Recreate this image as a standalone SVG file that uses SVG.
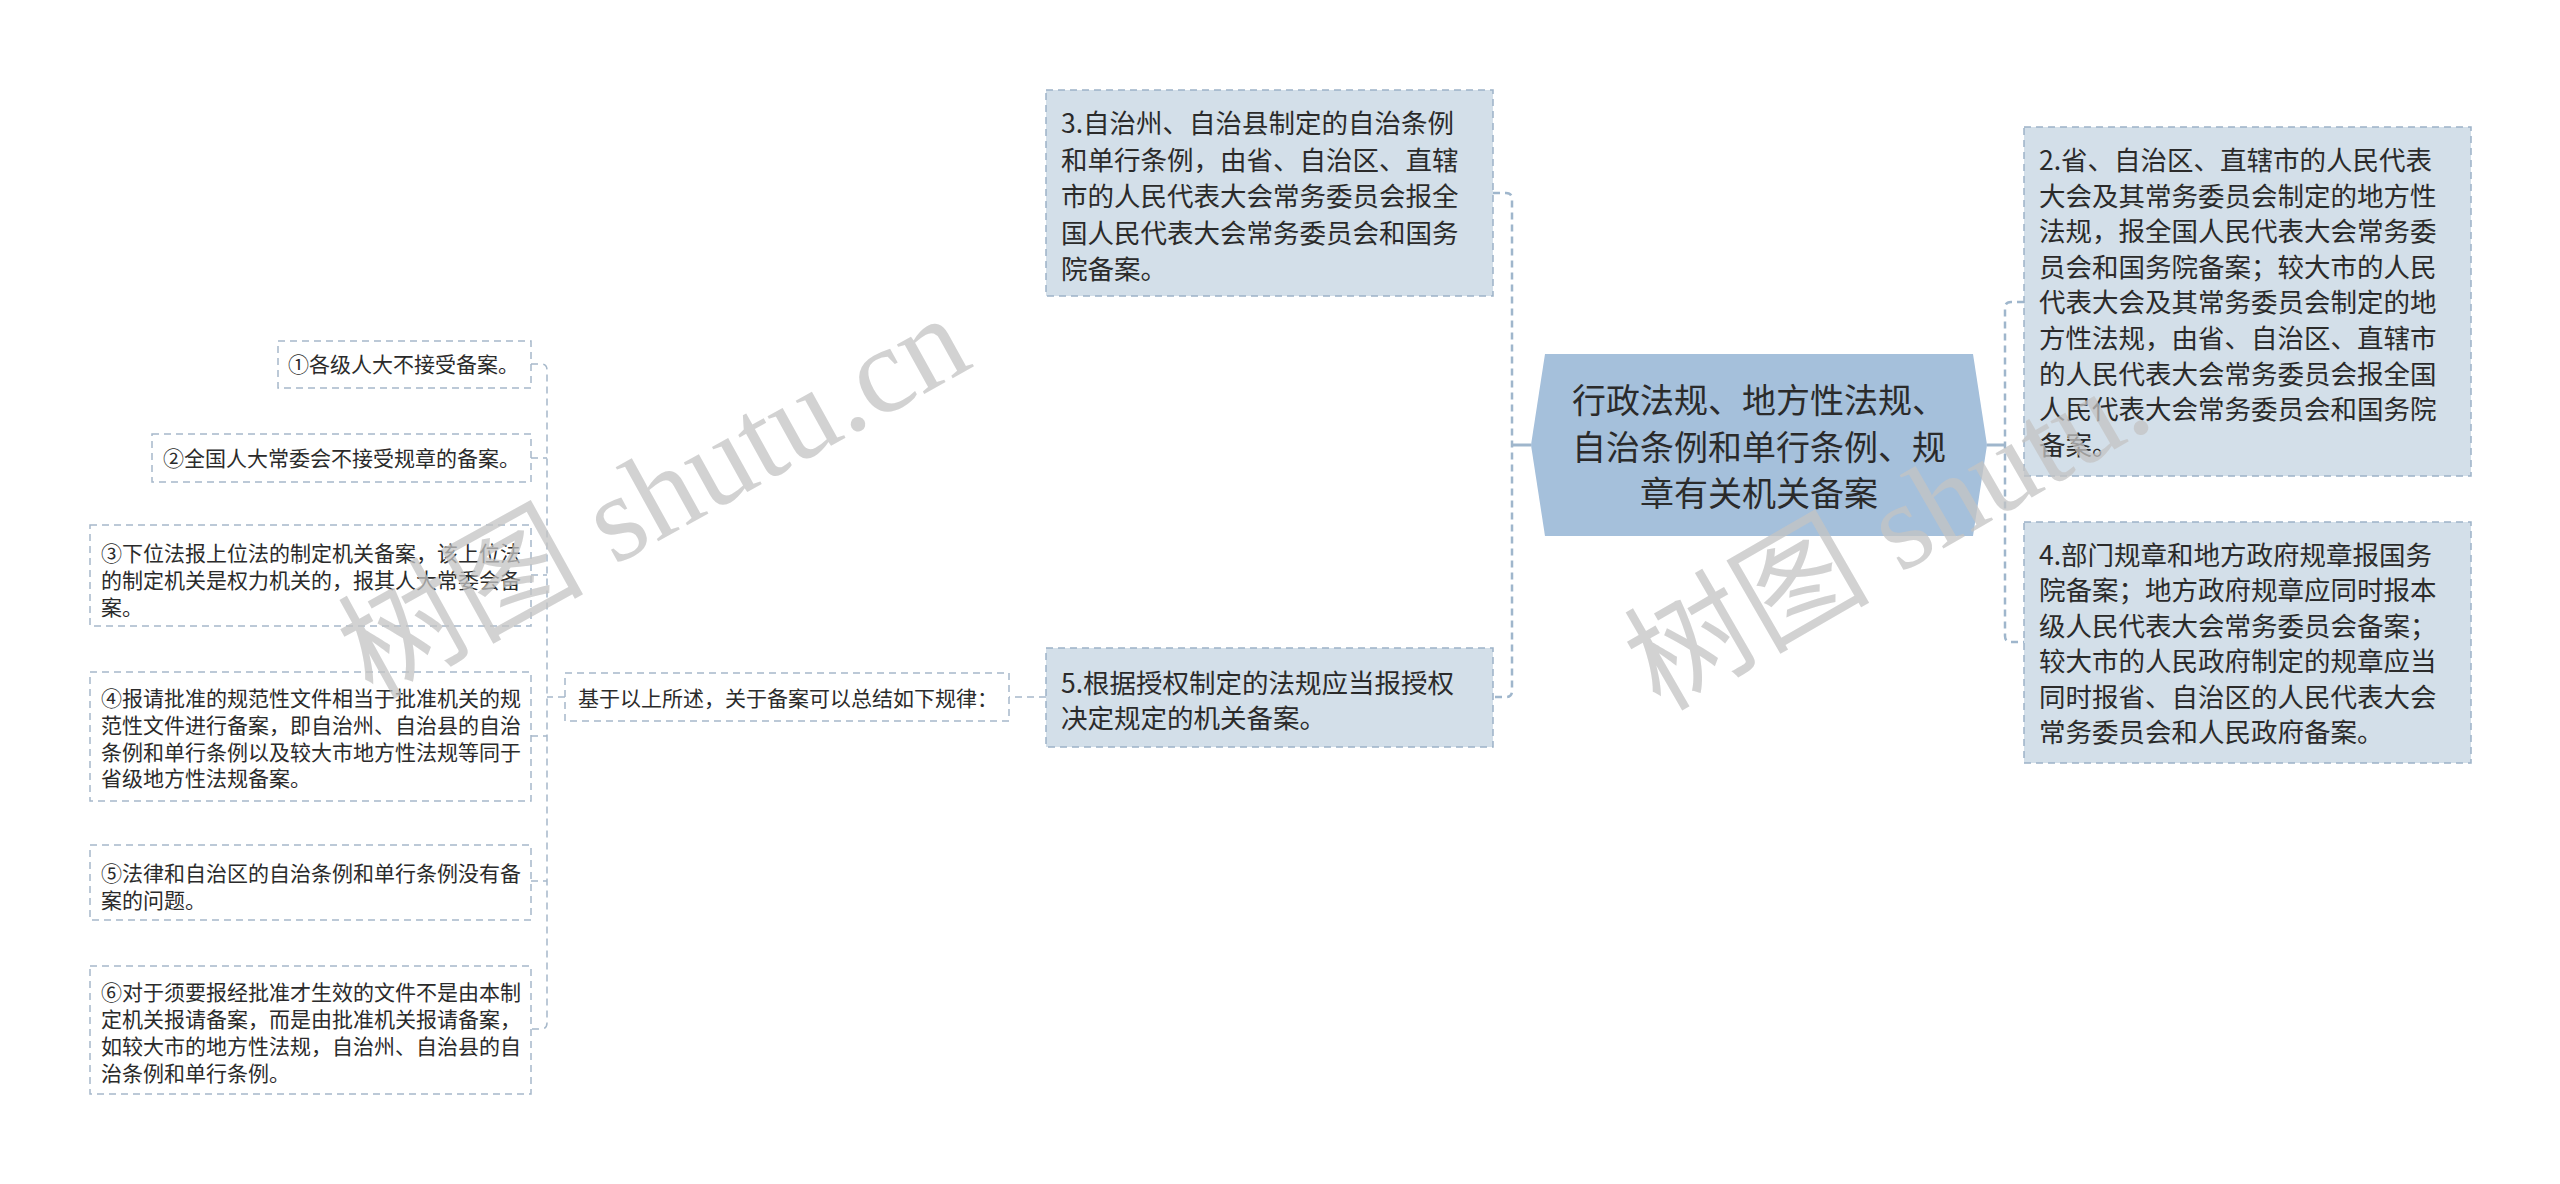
<svg xmlns="http://www.w3.org/2000/svg" width="2560" height="1184" viewBox="0 0 2560 1184">
<style>
.t{font-family:"Noto Sans CJK SC","Liberation Sans",sans-serif;fill:#2b2b2b}
.c{font-size:34px}
.m{font-size:26.5px}
.s{font-size:21px}
.box2{fill:#d3dfe9;stroke:#9db3c8;stroke-width:1.5;stroke-dasharray:7 5}
.box3{fill:#ffffff;stroke:#a6b8ca;stroke-width:1.5;stroke-dasharray:7 5}
.ln{fill:none;stroke:#9fb6cc;stroke-width:2.5;stroke-dasharray:7 5}
.lt{fill:none;stroke:#a6b8ca;stroke-width:1.5;stroke-dasharray:7 5}
.sol{fill:none;stroke:#9fb6cc;stroke-width:3}
.wm{font-family:"Liberation Serif","Noto Sans CJK SC",serif;font-size:123px;fill:#c4c4c4;opacity:0.75}
</style>
<rect width="2560" height="1184" fill="#ffffff"/>
<g id="connectors">
<path class="sol" d="M1531,445 H1512"/>
<path class="ln" d="M1493,193 H1506 Q1512,193 1512,199 V691 Q1512,697 1506,697 H1493"/>
<path class="sol" d="M1987,445 H2005"/>
<path class="ln" d="M2024,302 H2011 Q2005,302 2005,308 V636 Q2005,642 2011,642 H2024"/>
<path class="lt" d="M1046,697 H1009"/>
<path class="lt" d="M565,697 H547"/>
<path class="lt" d="M531,364 H541 Q547,364 547,370 V1023 Q547,1029 541,1029 H531"/>
<path class="lt" d="M531,458 H547 M531,575 H547 M531,736 H547 M531,881 H547"/>
</g>
<g id="central">
<polygon points="1531,445 1545,354 1973,354 1987,445 1973,536 1545,536" fill="#a5c0db"/>
<text class="t c" text-anchor="middle"><tspan x="1759" y="413">行政法规、地方性法规、</tspan><tspan x="1759" y="460">自治条例和单行条例、规</tspan><tspan x="1759" y="506">章有关机关备案</tspan></text>
</g>
<g id="node3">
<rect class="box2" x="1046" y="90" width="447" height="206"/>
<text class="t m"><tspan x="1061" y="133">3.自治州、自治县制定的自治条例</tspan><tspan x="1061" y="169.5">和单行条例，由省、自治区、直辖</tspan><tspan x="1061" y="206">市的人民代表大会常务委员会报全</tspan><tspan x="1061" y="242.5">国人民代表大会常务委员会和国务</tspan><tspan x="1061" y="279">院备案。</tspan></text>
</g>
<g id="node5">
<rect class="box2" x="1046" y="648" width="447" height="99"/>
<text class="t m"><tspan x="1061" y="693">5.根据授权制定的法规应当报授权</tspan><tspan x="1061" y="728">决定规定的机关备案。</tspan></text>
</g>
<g id="node2">
<rect class="box2" x="2024" y="127" width="447" height="349"/>
<text class="t m"><tspan x="2039" y="170">2.省、自治区、直辖市的人民代表</tspan><tspan x="2039" y="205.6">大会及其常务委员会制定的地方性</tspan><tspan x="2039" y="241.2">法规，报全国人民代表大会常务委</tspan><tspan x="2039" y="276.8">员会和国务院备案；较大市的人民</tspan><tspan x="2039" y="312.4">代表大会及其常务委员会制定的地</tspan><tspan x="2039" y="348">方性法规，由省、自治区、直辖市</tspan><tspan x="2039" y="383.6">的人民代表大会常务委员会报全国</tspan><tspan x="2039" y="419.2">人民代表大会常务委员会和国务院</tspan><tspan x="2039" y="454.8">备案。</tspan></text>
</g>
<g id="node4">
<rect class="box2" x="2024" y="522" width="447" height="241"/>
<text class="t m"><tspan x="2039" y="565">4.部门规章和地方政府规章报国务</tspan><tspan x="2039" y="600.4">院备案；地方政府规章应同时报本</tspan><tspan x="2039" y="635.8">级人民代表大会常务委员会备案；</tspan><tspan x="2039" y="671.2">较大市的人民政府制定的规章应当</tspan><tspan x="2039" y="706.6">同时报省、自治区的人民代表大会</tspan><tspan x="2039" y="742">常务委员会和人民政府备案。</tspan></text>
</g>
<g id="summary">
<rect class="box3" x="565" y="673" width="444" height="48"/>
<text class="t s" x="578" y="706">基于以上所述，关于备案可以总结如下规律：</text>
</g>
<g id="item1">
<rect class="box3" x="278" y="341" width="253" height="47"/>
<text class="t s" x="288" y="372">①各级人大不接受备案。</text>
</g>
<g id="item2">
<rect class="box3" x="152" y="434" width="379" height="48"/>
<text class="t s" x="163" y="466">②全国人大常委会不接受规章的备案。</text>
</g>
<g id="item3">
<rect class="box3" x="90" y="525" width="441" height="101"/>
<text class="t s"><tspan x="101" y="561">③下位法报上位法的制定机关备案，该上位法</tspan><tspan x="101" y="588">的制定机关是权力机关的，报其人大常委会备</tspan><tspan x="101" y="615">案。</tspan></text>
</g>
<g id="item4">
<rect class="box3" x="90" y="672" width="441" height="129"/>
<text class="t s"><tspan x="101" y="706">④报请批准的规范性文件相当于批准机关的规</tspan><tspan x="101" y="733">范性文件进行备案，即自治州、自治县的自治</tspan><tspan x="101" y="760">条例和单行条例以及较大市地方性法规等同于</tspan><tspan x="101" y="786">省级地方性法规备案。</tspan></text>
</g>
<g id="item5">
<rect class="box3" x="90" y="845" width="441" height="75"/>
<text class="t s"><tspan x="101" y="881">⑤法律和自治区的自治条例和单行条例没有备</tspan><tspan x="101" y="908">案的问题。</tspan></text>
</g>
<g id="item6">
<rect class="box3" x="90" y="966" width="441" height="128"/>
<text class="t s"><tspan x="101" y="1000">⑥对于须要报经批准才生效的文件不是由本制</tspan><tspan x="101" y="1027">定机关报请备案，而是由批准机关报请备案，</tspan><tspan x="101" y="1054">如较大市的地方性法规，自治州、自治县的自</tspan><tspan x="101" y="1081">治条例和单行条例。</tspan></text>
</g>
<g id="watermarks">
<text class="wm" transform="translate(372,700) rotate(-29)">树图 shutu.cn</text>
<text class="wm" transform="translate(1660,712) rotate(-30)">树图 shutu.</text>
</g>
</svg>
